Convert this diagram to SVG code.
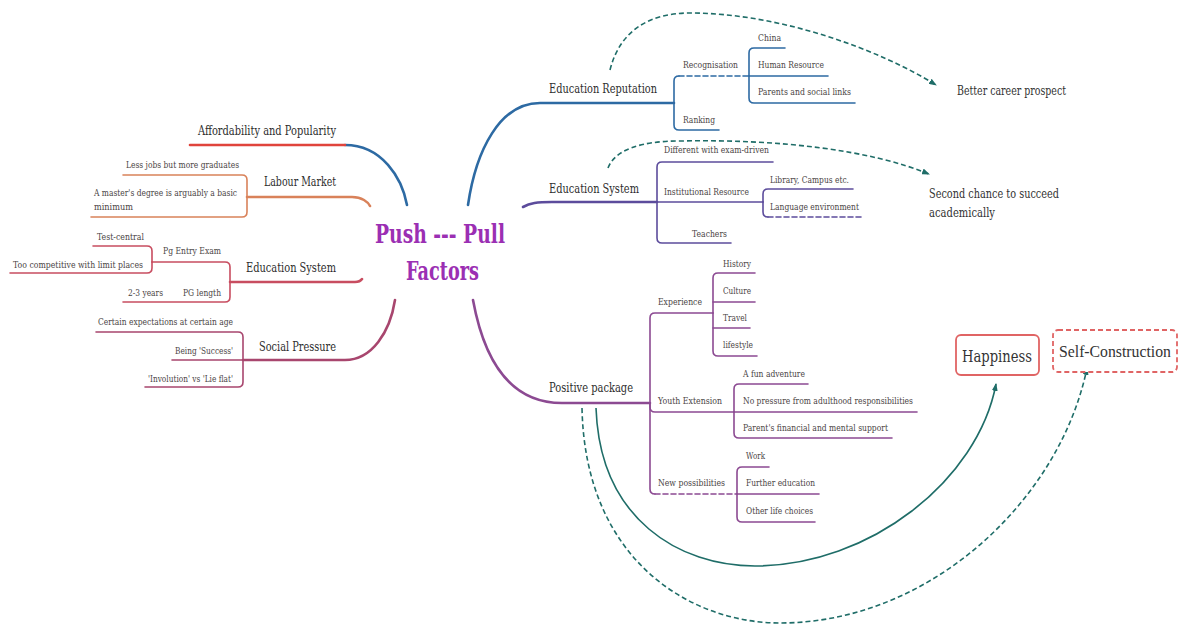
<svg xmlns="http://www.w3.org/2000/svg" width="1182" height="625" viewBox="0 0 1182 625">
<style>
text{font-family:"DejaVu Serif","Liberation Serif",serif}
.tm{font-size:13.5px;fill:#2e2e2e}
.ts{font-size:10px;fill:#4a4444}
.to{font-size:12.5px;fill:#333}
.tc{font-size:26px;fill:#9b2fb3;font-weight:bold}
.tb{font-size:17px;fill:#333}
.ln{fill:none;stroke-linecap:round;stroke-linejoin:round}
.main{stroke-width:2.6}
.sub{stroke-width:1.6}
.dash{stroke-dasharray:5 3}
.red{stroke:#e0443c}.blue{stroke:#2d6aa3}.orange{stroke:#d9825a}.crim{stroke:#c84d60}.mag{stroke:#a8466e}
.indigo{stroke:#5c4c9c}.purp{stroke:#8c4a92}
.teal{fill:none;stroke:#1f6d68;stroke-width:1.6}
</style>
<defs>
<marker id="ah" markerWidth="8" markerHeight="6" refX="7" refY="3" orient="auto" markerUnits="userSpaceOnUse">
<path d="M0,0 L8,3 L0,6 z" fill="#1f6d68"/>
</marker>
</defs>

<g id="connectors">
<path class="ln main blue" d="M345,145 C382,145 402,178 407,205"/>
<path class="ln main orange" d="M247,197 H352 C362,197 368,202 370,206"/>
<path class="ln main crim" d="M230,282 H355 Q360,282 362,279"/>
<path class="ln main mag" d="M243,360 H345 C372,360 390,332 395,300"/>
<path class="ln main blue" d="M468,205 C476,150 500,103 540,103 H674"/>
<path class="ln main indigo" d="M523,207 C530,203 537,202 552,202 H657"/>
<path class="ln main purp" d="M473,300 C484,360 510,403 562,403 H650"/>
<path class="teal dash" d="M610,70 C620,30 650,13 690,13 C780,13 880,50 936,85" marker-end="url(#ah)"/>
<path class="teal dash" d="M608,168 C615,150 640,141 680,141 C780,139 870,150 929,174" marker-end="url(#ah)"/>
<path class="teal" d="M596,408 C600,520 680,566 755,566 C870,566 978,480 996,384" marker-end="url(#ah)"/>
<path class="teal dash" d="M582,408 C585,560 690,623 780,623 C930,623 1060,500 1087,368" marker-end="url(#ah)"/>
</g>

<g id="center">
<text class="tc" x="375" y="243" textLength="130" lengthAdjust="spacingAndGlyphs">Push ---  Pull</text>
<text class="tc" x="406" y="280" textLength="73" lengthAdjust="spacingAndGlyphs">Factors</text>
</g>

<g id="affordability">
<path class="ln main red" d="M190,145 H345"/>
<text class="tm" x="198" y="135" textLength="138" lengthAdjust="spacingAndGlyphs">Affordability and Popularity</text>
</g>

<g id="labour-market">
<text class="tm" x="264" y="186" textLength="72" lengthAdjust="spacingAndGlyphs">Labour Market</text>
<path class="ln sub orange" d="M247,197 V180 Q247,175 242,175 H123"/>
<path class="ln sub orange" d="M247,197 V212 Q247,217 242,217 H91"/>
<text class="ts" x="126" y="168" textLength="113" lengthAdjust="spacingAndGlyphs">Less jobs but more graduates</text>
<text class="ts" x="94" y="196" textLength="143" lengthAdjust="spacingAndGlyphs">A master's degree is arguably a basic</text>
<text class="ts" x="94" y="210" textLength="39" lengthAdjust="spacingAndGlyphs">minimum</text>
</g>

<g id="education-system-left">
<text class="tm" x="246" y="272" textLength="90" lengthAdjust="spacingAndGlyphs">Education System</text>
<path class="ln sub crim" d="M230,282 V267 Q230,262 225,262 H152"/>
<path class="ln sub crim" d="M230,282 V297 Q230,302 225,302 H123"/>
<path class="ln sub crim" d="M152,262 V251 Q152,246 147,246 H93"/>
<path class="ln sub crim" d="M152,262 V268 Q152,273 147,273 H10"/>
<text class="ts" x="163" y="254" textLength="58" lengthAdjust="spacingAndGlyphs">Pg Entry Exam</text>
<text class="ts" x="97" y="240" textLength="47" lengthAdjust="spacingAndGlyphs">Test-central</text>
<text class="ts" x="13" y="268" textLength="130" lengthAdjust="spacingAndGlyphs">Too competitive with limit places</text>
<text class="ts" x="183" y="296" textLength="38" lengthAdjust="spacingAndGlyphs">PG length</text>
<text class="ts" x="128" y="296" textLength="35" lengthAdjust="spacingAndGlyphs">2-3 years</text>
</g>

<g id="social-pressure">
<text class="tm" x="259" y="351" textLength="77" lengthAdjust="spacingAndGlyphs">Social Pressure</text>
<path class="ln sub mag" d="M243,360 V337 Q243,332 238,332 H96"/>
<path class="ln sub mag" d="M243,360 H172"/>
<path class="ln sub mag" d="M243,360 V382 Q243,387 238,387 H145"/>
<text class="ts" x="98" y="325" textLength="135" lengthAdjust="spacingAndGlyphs">Certain expectations at certain age</text>
<text class="ts" x="175" y="354" textLength="58" lengthAdjust="spacingAndGlyphs">Being 'Success'</text>
<text class="ts" x="148" y="382" textLength="85" lengthAdjust="spacingAndGlyphs">'Involution' vs 'Lie flat'</text>
</g>

<g id="education-reputation">
<text class="tm" x="549" y="93" textLength="108" lengthAdjust="spacingAndGlyphs">Education Reputation</text>
<path class="ln sub blue" d="M674,103 V81 Q674,76 679,76"/>
<path class="ln sub blue dash" d="M679,76 H749"/>
<path class="ln sub blue" d="M674,103 V125 Q674,130 679,130 H719"/>
<path class="ln sub blue" d="M749,76 V53 Q749,48 754,48 H785"/>
<path class="ln sub blue" d="M749,76 H828"/>
<path class="ln sub blue" d="M749,76 V98 Q749,103 754,103 H855"/>
<text class="ts" x="683" y="68" textLength="55" lengthAdjust="spacingAndGlyphs">Recognisation</text>
<text class="ts" x="683" y="123" textLength="32" lengthAdjust="spacingAndGlyphs">Ranking</text>
<text class="ts" x="758" y="41" textLength="23" lengthAdjust="spacingAndGlyphs">China</text>
<text class="ts" x="758" y="68" textLength="66" lengthAdjust="spacingAndGlyphs">Human Resource</text>
<text class="ts" x="758" y="95" textLength="93" lengthAdjust="spacingAndGlyphs">Parents and social links</text>
</g>

<g id="education-system-right">
<text class="tm" x="549" y="193" textLength="90" lengthAdjust="spacingAndGlyphs">Education System</text>
<path class="ln sub indigo" d="M657,202 V167 Q657,162 662,162 H773"/>
<path class="ln sub indigo" d="M657,202 H763"/>
<path class="ln sub indigo" d="M657,202 V238 Q657,243 662,243 H731"/>
<path class="ln sub indigo" d="M763,202 V194 Q763,189 768,189 H853"/>
<path class="ln sub indigo" d="M763,202 V212 Q763,217 768,217"/>
<path class="ln sub indigo dash" d="M768,217 H863"/>
<text class="ts" x="664" y="153" textLength="105" lengthAdjust="spacingAndGlyphs">Different with exam-driven</text>
<text class="ts" x="664" y="195" textLength="85" lengthAdjust="spacingAndGlyphs">Institutional Resource</text>
<text class="ts" x="692" y="237" textLength="35" lengthAdjust="spacingAndGlyphs">Teachers</text>
<text class="ts" x="770" y="183" textLength="79" lengthAdjust="spacingAndGlyphs">Library, Campus etc.</text>
<text class="ts" x="770" y="210" textLength="89" lengthAdjust="spacingAndGlyphs">Language environment</text>
</g>

<g id="positive-package">
<text class="tm" x="549" y="392" textLength="84" lengthAdjust="spacingAndGlyphs">Positive package</text>
<path class="ln sub purp" d="M650,403 V318 Q650,313 655,313 H713"/>
<path class="ln sub purp" d="M650,403 V407 Q650,412 655,412 H734"/>
<path class="ln sub purp" d="M650,403 V489 Q650,494 655,494"/>
<path class="ln sub purp dash" d="M655,494 H737"/>
<path class="ln sub purp" d="M713,313 V278 Q713,273 718,273 H755"/>
<path class="ln sub purp" d="M713,302 H755"/>
<path class="ln sub purp" d="M713,328 H750"/>
<path class="ln sub purp" d="M713,313 V351 Q713,356 718,356 H757"/>
<path class="ln sub purp" d="M734,412 V389 Q734,384 739,384 H808"/>
<path class="ln sub purp" d="M734,412 H917"/>
<path class="ln sub purp" d="M734,412 V433 Q734,438 739,438 H892"/>
<path class="ln sub purp" d="M737,494 V472 Q737,467 742,467 H769"/>
<path class="ln sub purp" d="M737,494 H819"/>
<path class="ln sub purp" d="M737,494 V517 Q737,522 742,522 H815"/>
<text class="ts" x="658" y="305" textLength="44" lengthAdjust="spacingAndGlyphs">Experience</text>
<text class="ts" x="723" y="267" textLength="28" lengthAdjust="spacingAndGlyphs">History</text>
<text class="ts" x="723" y="294" textLength="28" lengthAdjust="spacingAndGlyphs">Culture</text>
<text class="ts" x="723" y="321" textLength="24" lengthAdjust="spacingAndGlyphs">Travel</text>
<text class="ts" x="723" y="348" textLength="30" lengthAdjust="spacingAndGlyphs">lifestyle</text>
<text class="ts" x="658" y="404" textLength="64" lengthAdjust="spacingAndGlyphs">Youth Extension</text>
<text class="ts" x="743" y="377" textLength="62" lengthAdjust="spacingAndGlyphs">A fun adventure</text>
<text class="ts" x="743" y="404" textLength="170" lengthAdjust="spacingAndGlyphs">No pressure from adulthood responsibilities</text>
<text class="ts" x="743" y="431" textLength="145" lengthAdjust="spacingAndGlyphs">Parent's financial and mental support</text>
<text class="ts" x="658" y="486" textLength="67" lengthAdjust="spacingAndGlyphs">New possibilities</text>
<text class="ts" x="746" y="459" textLength="19" lengthAdjust="spacingAndGlyphs">Work</text>
<text class="ts" x="746" y="486" textLength="69" lengthAdjust="spacingAndGlyphs">Further education</text>
<text class="ts" x="746" y="514" textLength="67" lengthAdjust="spacingAndGlyphs">Other life choices</text>
</g>

<g id="better-career">
<text class="to" x="957" y="95" textLength="109" lengthAdjust="spacingAndGlyphs">Better career prospect</text>
</g>

<g id="second-chance">
<text class="to" x="929" y="198" textLength="130" lengthAdjust="spacingAndGlyphs">Second chance to succeed</text>
<text class="to" x="929" y="217" textLength="66" lengthAdjust="spacingAndGlyphs">academically</text>
</g>

<g id="happiness">
<rect x="956" y="335" width="83" height="40" rx="5" fill="#fff" stroke="#e06464" stroke-width="1.8"/>
<text class="tb" x="962" y="362" textLength="70" lengthAdjust="spacingAndGlyphs">Happiness</text>
</g>

<g id="self-construction">
<rect x="1053" y="330" width="124" height="42" rx="5" fill="#fff" stroke="#e06464" stroke-width="1.8" stroke-dasharray="5 3"/>
<text x="1115" y="357" text-anchor="middle" style="font-family:'Liberation Serif',serif;font-size:17px;fill:#333" textLength="112" lengthAdjust="spacingAndGlyphs">Self-Construction</text>
</g>
</svg>
